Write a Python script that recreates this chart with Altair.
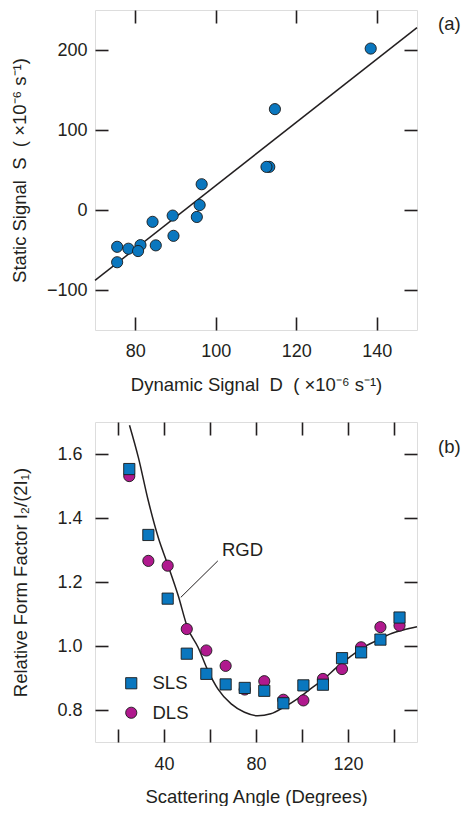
import altair as alt
import pandas as pd

FONT = "Liberation Sans"
INK = "#231f20"
BLUE = "#0a77bf"
MAGENTA = "#b0198e"

# ---------------- Panel (a) data ----------------
dyn_signal = [75.5, 75.5, 78.3, 81.3, 80.7, 84.3, 85.1, 89.3, 89.5, 95.3, 96.0, 96.5, 113.3, 112.6, 114.7, 138.5]
stat_signal = [-46.0, -65.3, -48.4, -43.9, -51.3, -14.8, -44.2, -7.0, -32.3, -8.7, 6.2, 32.2, 53.9, 53.9, 126.1, 201.8]
fit_x = [70, 150]
fit_y = [-88, 228]
a_xticks = [80, 100, 120, 140]
a_yticks = [-100, 0, 100, 200]

# ---------------- Panel (b) data ----------------
angle = [24.9, 33.2, 41.6, 49.9, 58.4, 66.8, 75.1, 83.6, 91.9, 100.6, 109.1, 117.4, 125.7, 134.1, 142.4]
sls = [1.553, 1.347, 1.148, 0.976, 0.913, 0.880, 0.869, 0.860, 0.821, 0.877, 0.879, 0.962, 0.980, 1.020, 1.089]
dls = [1.531, 1.266, 1.251, 1.053, 0.986, 0.938, 0.864, 0.890, 0.832, 0.830, 0.897, 0.928, 0.996, 1.059, 1.064]
rgd_x = [25.0, 28.9, 33.2, 37.5, 41.6, 46.2, 50.2, 54.8, 59.1, 63.4, 69.2, 75.0, 80.7, 86.4,
         92.2, 98.0, 103.7, 109.5, 115.2, 121.0, 126.7, 132.5, 138.2, 144.0, 150.0]
rgd_y = [1.690, 1.588, 1.453, 1.339, 1.255, 1.157, 1.058, 0.996, 0.923, 0.866, 0.819, 0.793, 0.782, 0.788,
         0.809, 0.835, 0.866, 0.897, 0.934, 0.967, 0.996, 1.017, 1.037, 1.050, 1.060]
rgd_label = "RGD"
rgd_label_pos = (65.2, 1.299)
rgd_leader_x = [63.4, 47.3]
rgd_leader_y = [1.266, 1.152]
b_xticks = [20, 40, 60, 80, 100, 120, 140]
b_yticks = [0.8, 1.0, 1.2, 1.4, 1.6]

W, H = 322, 320
TICK = 13


def axis(orient, values, labels=True, pad=8, tpad=15, fmt=None, label_expr=None):
    kw = dict(orient=orient, values=values, offset=-TICK, tickSize=TICK, tickWidth=1.6,
              tickColor=INK, domain=False, grid=False, labels=labels,
              labelFont=FONT, labelFontSize=18, labelColor=INK, labelPadding=pad,
              titleFont=FONT, titleFontSize=18.5, titleFontWeight="normal", titleColor=INK,
              titlePadding=tpad, minExtent=0)
    if fmt:
        kw["format"] = fmt
    if label_expr:
        kw["labelExpr"] = label_expr
    return alt.Axis(**kw)


# ---------------- Panel (a) ----------------
df_a = pd.DataFrame({"D": dyn_signal, "S": stat_signal})
df_fit = pd.DataFrame({"D": fit_x, "S": fit_y})
xs_a = alt.Scale(domain=[70, 150], nice=False, zero=False)
ys_a = alt.Scale(domain=[-150, 250], nice=False, zero=False)

pts_a = alt.Chart(df_a).mark_point(
    shape="circle", filled=True, size=125, fill=BLUE, stroke="#1a1a1a", strokeWidth=0.9, opacity=1
).encode(
    x=alt.X("D:Q", scale=xs_a,
            axis=axis("bottom", a_xticks, pad=12, tpad=15),
            title="Dynamic Signal\u00a0\u00a0D\u00a0\u00a0(\u00a0×10⁻⁶ s⁻¹)"),
    y=alt.Y("S:Q", scale=ys_a,
            axis=axis("left", a_yticks, pad=8, tpad=17),
            title="Static Signal\u00a0\u00a0S\u00a0\u00a0(\u00a0×10⁻⁶ s⁻¹)"),
)
line_a = alt.Chart(df_fit).mark_line(color=INK, strokeWidth=1.5).encode(
    x=alt.X("D:Q", scale=xs_a, axis=axis("top", a_xticks, labels=False), title=None),
    y=alt.Y("S:Q", scale=ys_a, axis=axis("right", a_yticks, labels=False), title=None),
)
lab_a = alt.Chart(pd.DataFrame({"t": ["(a)"]})).mark_text(
    align="left", baseline="middle", font=FONT, fontSize=18.5, color=INK
).encode(x=alt.value(343), y=alt.value(14), text="t:N")

panel_a = alt.layer(line_a, pts_a, lab_a).resolve_axis(x="independent", y="independent").properties(
    width=W, height=H)

# ---------------- Panel (b) ----------------
df_b = pd.DataFrame({
    "angle": angle + angle,
    "value": dls + sls,
    "series": ["DLS"] * len(angle) + ["SLS"] * len(angle),
})
df_rgd = pd.DataFrame({"angle": rgd_x, "value": rgd_y})
df_leader = pd.DataFrame({"angle": rgd_leader_x, "value": rgd_leader_y})
df_rgd_lab = pd.DataFrame({"angle": [rgd_label_pos[0]], "value": [rgd_label_pos[1]], "t": [rgd_label]})

xs_b = alt.Scale(domain=[10, 150], nice=False, zero=False)
ys_b = alt.Scale(domain=[0.7, 1.7], nice=False, zero=False)

rgd_line = alt.Chart(df_rgd).mark_line(color=INK, strokeWidth=1.5, interpolate="monotone").encode(
    x=alt.X("angle:Q", scale=xs_b, axis=axis("top", b_xticks, labels=False), title=None),
    y=alt.Y("value:Q", scale=ys_b, axis=axis("right", b_yticks, labels=False), title=None),
)
leader = alt.Chart(df_leader).mark_line(color=INK, strokeWidth=1).encode(
    x=alt.X("angle:Q", scale=xs_b, axis=None), y=alt.Y("value:Q", scale=ys_b, axis=None))
rgd_text = alt.Chart(df_rgd_lab).mark_text(
    align="left", baseline="middle", font=FONT, fontSize=18.5, color=INK
).encode(x=alt.X("angle:Q", scale=xs_b, axis=None), y=alt.Y("value:Q", scale=ys_b, axis=None),
         text="t:N")

pts_b = alt.Chart(df_b).mark_point(filled=True, size=125, stroke="#1a1a1a", strokeWidth=0.9, opacity=1).encode(
    x=alt.X("angle:Q", scale=xs_b,
            axis=axis("bottom", b_xticks, pad=13, tpad=14,
                      label_expr="datum.value % 40 == 0 ? datum.label : ''"),
            title="Scattering Angle (Degrees)"),
    y=alt.Y("value:Q", scale=ys_b,
            axis=axis("left", b_yticks, pad=13, tpad=26, fmt=".1f"),
            title="Relative Form Factor I₂/(2I₁)"),
    color=alt.Color("series:N", scale=alt.Scale(domain=["SLS", "DLS"], range=[BLUE, MAGENTA]),
                    legend=alt.Legend(orient="none", legendX=27, legendY=252, title=None,
                                      labelFont=FONT, labelFontSize=18.5, labelColor=INK,
                                      symbolSize=125, symbolStrokeColor="#1a1a1a",
                                      symbolStrokeWidth=0.9, rowPadding=10.5, labelOffset=12,
                                      padding=0)),
    shape=alt.Shape("series:N", scale=alt.Scale(domain=["SLS", "DLS"], range=["square", "circle"])),
)
lab_b = alt.Chart(pd.DataFrame({"t": ["(b)"]})).mark_text(
    align="left", baseline="middle", font=FONT, fontSize=18.5, color=INK
).encode(x=alt.value(343), y=alt.value(25), text="t:N")

panel_b = alt.layer(rgd_line, leader, rgd_text, pts_b, lab_b).resolve_axis(
    x="independent", y="independent").properties(width=W, height=H)

chart = alt.vconcat(panel_a, panel_b, spacing=26).resolve_legend(
    color="independent", shape="independent").properties(
    padding={"top": 0, "left": 1, "right": 0, "bottom": 0}).configure_view(
    stroke=INK, strokeWidth=1.6
).configure(font=FONT)

chart.save("out.html", embed_options={"renderer": "svg", "actions": False})
